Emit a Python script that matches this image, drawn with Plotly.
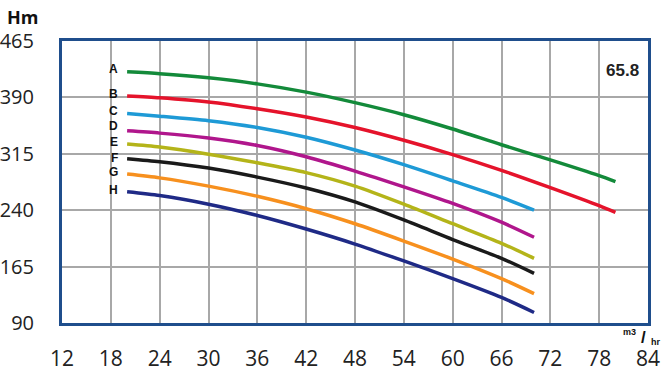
import plotly.graph_objects as go

flow = [20, 24, 30, 36, 42, 48, 54, 60, 66, 70]
flow_ext = [20, 24, 30, 36, 42, 48, 54, 60, 66, 72, 78, 80]

head_A = [424, 421.5, 416, 408, 397, 383, 367, 348, 327, 307, 286, 278]
head_B = [392, 389.5, 384, 375, 364, 350, 333, 314, 293, 270, 246, 237]
head_C = [368.5, 365, 359, 350, 337, 320, 300.5, 279, 257, 240]
head_D = [345.5, 342.5, 336, 326, 311, 292, 271, 249, 224, 204]
head_E = [328, 324, 314.5, 303, 290, 272, 248, 222, 196, 176]
head_F = [308.5, 304.5, 296, 284, 269.5, 251, 227, 201, 176, 156]
head_G = [288, 283, 272, 258.5, 242, 222, 199, 175, 149, 129]
head_H = [264.5, 259.5, 248, 233, 215, 195, 172.5, 149, 124, 104]

labels = ["A", "B", "C", "D", "E", "F", "G", "H"]
colors = ["#138a3a", "#e5132b", "#1e9ad6", "#b0168c", "#b4b419", "#1a1a1a", "#f7901e", "#1f2a86"]
series = [
    (flow_ext, head_A), (flow_ext, head_B), (flow, head_C), (flow, head_D),
    (flow, head_E), (flow, head_F), (flow, head_G), (flow, head_H),
]
label_shift = [3, 2, 3, 5, 2, 1, 2, 2]

x_ticks = [12, 18, 24, 30, 36, 42, 48, 54, 60, 66, 72, 78, 84]
y_ticks = [90, 165, 240, 315, 390, 465]
model_label = "65.8"
unit_parts = ["m3", "/", "hr"]

fig = go.Figure()
for (xs, ys), lab, col, sh in zip(series, labels, colors, label_shift):
    fig.add_trace(go.Scatter(x=xs, y=ys, mode="lines", name=lab,
                             line=dict(color=col, width=3.5, shape="spline", smoothing=0.7)))
    fig.add_annotation(x=19.0, y=ys[0], text="<b>%s</b>" % lab, showarrow=False,
                       xanchor="right", yanchor="middle", yshift=sh, borderpad=0,
                       font=dict(family="Liberation Sans, Arial", size=12, color="#111"))

fig.add_annotation(x=83.1, y=426, text="<b>%s</b>" % model_label, showarrow=False,
                   xanchor="right", yanchor="middle",
                   font=dict(family="Liberation Sans, Arial", size=17, color="#222"))

fig.add_annotation(xref="paper", yref="paper", x=-0.098, y=1.0, yshift=24,
                   text="<b>Hm</b>", showarrow=False, xanchor="left", yanchor="middle",
                   font=dict(family="Open Sans, Liberation Sans", size=18, color="#111"))

for part, px, sy, fs in zip(unit_parts, [0.969, 0.9915, 1.012], [-9, -14, -19], [9, 17, 9]):
    fig.add_annotation(xref="paper", yref="paper", x=px, y=0, yshift=sy,
                       text="<b>%s</b>" % part, showarrow=False, xanchor="center", yanchor="middle",
                       borderpad=0,
                       font=dict(family="Liberation Sans, Arial", size=fs, color="#111"))

fig.update_xaxes(range=[12, 84], tickvals=x_ticks, showgrid=True, gridcolor="#a8a8a8", gridwidth=1.5,
                 showline=True, linecolor="#1f4e8c", linewidth=3, mirror=True, zeroline=False,
                 ticks="", ticklabelstandoff=15, automargin=False,
                 tickfont=dict(family="Open Sans, Liberation Sans", size=21, color="#222"))
fig.update_yaxes(range=[90, 465], tickvals=y_ticks, showgrid=True, gridcolor="#a8a8a8", gridwidth=1.5,
                 showline=True, linecolor="#1f4e8c", linewidth=3, mirror=True, zeroline=False,
                 ticks="", ticklabelstandoff=21, automargin=False,
                 tickfont=dict(family="Open Sans, Liberation Sans", size=20, color="#222"))

fig.update_layout(width=669, height=376, showlegend=False,
                  margin=dict(l=62, r=21, t=41, b=53),
                  plot_bgcolor="white", paper_bgcolor="white")

fig.write_html("out.html", config={"displayModeBar": False},
               post_script="document.body.style.margin='0px';")
